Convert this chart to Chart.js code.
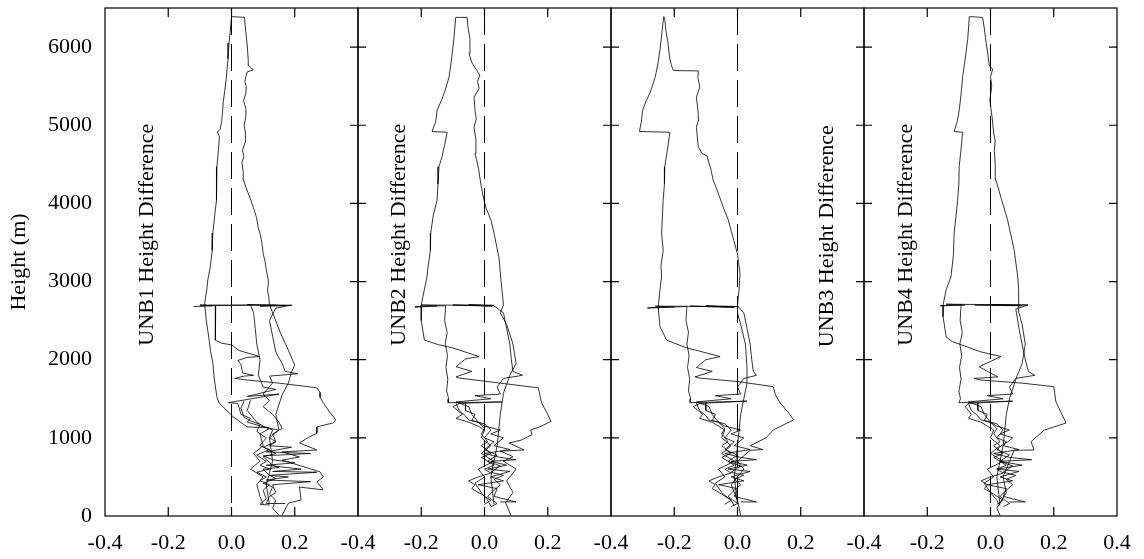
<!DOCTYPE html>
<html>
<head>
<meta charset="utf-8">
<script src="https://cdn.jsdelivr.net/npm/chart.js@4/dist/chart.umd.min.js"></script>
<style>
body { margin: 0; background: #fff; }
#wrap { position: relative; width: 1144px; height: 559px; }
#wrap canvas { position: absolute; left: 0; top: 0; }
</style>
</head>
<body>
<div id="wrap">
  <canvas id="c1" width="1144" height="559"></canvas>
  <canvas id="c2" width="1144" height="559"></canvas>
  <canvas id="c3" width="1144" height="559"></canvas>
  <canvas id="c4" width="1144" height="559"></canvas>
</div>
<script>
// tick labels
const xTicks = [-0.4, -0.2, 0.0, 0.2, 0.4];
const yTicks = [0, 1000, 2000, 3000, 4000, 5000, 6000];
const panelNames = ['UNB1', 'UNB2', 'UNB3', 'UNB4'];
const zeroLine = [[0, 6500], [0, 0]];

// UNB1 profiles: [height difference, height]
const p1Tall = [[0.12,150],[0.11,400],[0.13,700],[0.12,1000],[0.15,1100],[0.14,1300],[0.16,1550],[0.18,1700],[0.19,1850],[0.2,1930],[0.18,2120],[0.155,2340],[0.13,2600],[0.12,2700],[0.118,2800],[0.114,2890],[0.117,3000],[0.11,3150],[0.106,3260],[0.10,3360],[0.096,3500],[0.091,3600],[0.084,3700],[0.079,3820],[0.069,3950],[0.056,4100],[0.046,4200],[0.038,4300],[0.037,4400],[0.033,4520],[0.039,4600],[0.035,4680],[0.043,4780],[0.044,4900],[0.040,5000],[0.045,5100],[0.046,5200],[0.038,5320],[0.045,5400],[0.047,5490],[0.042,5560],[0.049,5680],[0.069,5710],[0.055,5760],[0.053,5830],[0.051,5950],[0.049,6050],[0.045,6200],[0.041,6380],[0.0,6390],[-0.004,6200],[-0.008,6050],[-0.011,5850],[-0.016,5620],[-0.021,5450],[-0.026,5300],[-0.028,5190],[-0.031,5050],[-0.036,4950],[-0.045,4910],[-0.038,4860],[-0.041,4700],[-0.046,4470],[-0.046,4250],[-0.049,4040],[-0.053,3850],[-0.059,3620],[-0.061,3400],[-0.067,3190],[-0.075,3020],[-0.078,2900],[-0.085,2720],[-0.08,2510],[-0.072,2290],[-0.066,2100],[-0.059,1960],[-0.054,1740],[-0.046,1520],[-0.04,1450],[0.005,1270],[0.049,1140],[0.11,1130],[0.15,1100]];
const p1Wave = [[-0.05,2690],[-0.05,2520],[-0.052,2250],[-0.03,2210],[0.0,2190],[0.02,2130],[0.03,2110],[0.09,2040],[0.05,2030],[0.02,1990],[0.03,1940],[0.035,1830],[0.07,1800],[0.04,1790],[0.01,1760],[0.05,1740],[0.15,1700],[0.27,1640],[0.28,1580],[0.28,1520],[0.29,1450],[0.31,1330],[0.33,1230],[0.32,1190],[0.27,1140],[0.27,1060],[0.245,1010],[0.215,935],[0.27,845],[0.16,820],[0.215,755],[0.16,715],[0.28,565],[0.29,500],[0.27,435],[0.29,335],[0.215,370],[0.22,205],[0.18,165],[0.16,10]];
const p1Mid = [[-0.10,2690],[0.0,2695],[0.06,2700],[0.07,2600],[0.075,2400],[0.08,2200],[0.09,2000],[0.085,1800],[0.1,1650],[0.14,1620],[0.05,1530],[0.15,1560],[-0.01,1450],[0.02,1440],[0.03,1300],[0.06,1250],[0.05,1200],[0.12,1120],[0.09,1050],[0.1,900],[0.07,800],[0.09,700],[0.06,600],[0.1,500],[0.08,400],[0.09,250],[0.1,150]];
const p1Right = [[0.19,2700],[0.14,2660],[0.12,2500],[0.13,2300],[0.14,2100],[0.16,1950],[0.17,1850],[0.21,1820],[0.12,1790],[0.13,1700],[0.1,1560],[0.12,1480],[0.1,1400],[0.13,1300],[0.15,1200],[0.16,1120],[0.13,1050],[0.14,950],[0.12,900],[0.19,880],[0.11,820],[0.25,800],[0.1,770],[0.13,720],[0.2,680],[0.11,650],[0.22,600],[0.13,570],[0.27,560],[0.12,520],[0.18,500],[0.11,460],[0.25,440],[0.13,400],[0.14,300],[0.12,250],[0.11,160],[0.17,160]];
const p1Spike = [[-0.12,2680],[-0.06,2690],[-0.1,2700],[0.19,2695],[0.05,2705],[0.17,2690],[0.09,2685],[0.14,2700]];
const p1Core = [[0.04,1470],[0.03,1380],[0.04,1260],[0.06,1220],[0.09,1170],[0.08,1080],[0.11,1000],[0.09,900],[0.12,850],[0.08,780],[0.11,700],[0.09,650],[0.12,600],[0.08,560],[0.11,500],[0.09,450],[0.12,400],[0.1,330],[0.11,220],[0.09,150],[0.12,140]];
const p1Core2 = [[0.06,1480],[0.05,1350],[0.08,1200],[0.1,1150],[0.13,1100],[0.12,1000],[0.14,950],[0.1,880],[0.14,800],[0.1,760],[0.13,650],[0.15,620],[0.1,600],[0.12,520],[0.14,480],[0.1,420],[0.13,370],[0.12,280],[0.14,200],[0.13,100],[0.15,10]];

// UNB2
const p2Tall = [[0.03,150],[0.02,500],[0.04,900],[0.05,1300],[0.06,1570],[0.08,1800],[0.1,1950],[0.09,2200],[0.07,2450],[0.05,2600],[0.06,2700],[0.055,2900],[0.051,3060],[0.046,3300],[0.03,3620],[0.021,3780],[0.004,3950],[-0.005,4100],[-0.012,4260],[-0.019,4450],[-0.03,4640],[-0.027,4800],[-0.033,4975],[-0.026,5080],[-0.03,5190],[-0.033,5360],[-0.017,5470],[-0.022,5560],[-0.015,5640],[-0.024,5700],[-0.04,5800],[-0.049,5920],[-0.046,6100],[-0.052,6250],[-0.055,6380],[-0.091,6380],[-0.097,6100],[-0.104,5850],[-0.112,5620],[-0.124,5450],[-0.136,5320],[-0.15,5190],[-0.154,5050],[-0.166,4920],[-0.118,4910],[-0.126,4750],[-0.134,4600],[-0.144,4470],[-0.147,4250],[-0.15,4040],[-0.162,3850],[-0.17,3620],[-0.171,3400],[-0.178,3200],[-0.182,3060],[-0.19,2900],[-0.2,2700],[-0.2,2500],[-0.19,2250],[-0.144,2190],[-0.1,2150],[-0.017,2040],[-0.06,2010],[-0.09,1910],[-0.04,1850],[-0.09,1780],[-0.08,1765],[0.05,1700],[0.17,1640],[0.175,1550],[0.18,1450],[0.2,1300],[0.21,1210],[0.18,1150],[0.146,1100],[0.15,1040],[0.115,970],[0.078,935],[0.125,845],[0.05,830],[0.09,760],[0.06,700],[0.1,600],[0.07,450],[0.09,300],[0.067,170],[0.083,10]];
const p2Mid = [[-0.22,2680],[-0.123,2690],[-0.126,2500],[-0.118,2350],[-0.124,2200],[-0.117,2050],[-0.122,1900],[-0.116,1750],[-0.12,1600],[-0.113,1500],[-0.115,1450],[0.055,1460],[-0.08,1440],[-0.1,1400],[-0.07,1300],[-0.09,1250],[-0.05,1200],[-0.02,1150],[0.0,1100],[-0.01,1000],[0.02,900],[-0.01,800],[0.03,700],[-0.02,600],[0.0,500],[-0.03,420],[-0.01,300],[0.01,200],[0.02,130]];
const p2Right = [[0.03,2690],[0.06,2600],[0.07,2400],[0.08,2200],[0.085,2000],[0.09,1850],[0.12,1800],[0.06,1760],[0.04,1650],[0.05,1560],[-0.03,1540],[0.02,1500],[-0.09,1460],[-0.05,1400],[-0.04,1300],[-0.02,1200],[0.0,1150],[0.05,1100],[0.02,1050],[0.06,1000],[0.03,900],[0.08,850],[0.0,800],[0.05,750],[0.1,720],[0.02,700],[0.07,650],[0.01,600],[0.08,570],[0.02,500],[0.06,450],[-0.02,400],[0.04,350],[0.03,250],[0.1,180],[0.05,180]];
const p2Spike = [[-0.22,2670],[-0.15,2690],[-0.2,2700],[0.03,2695],[-0.05,2705],[0.025,2685],[-0.1,2700],[0.01,2690]];
const p2Core = [[-0.09,1440],[-0.08,1350],[-0.06,1280],[-0.05,1230],[-0.02,1200],[0.0,1120],[-0.01,1050],[0.01,950],[-0.01,900],[0.02,800],[-0.01,750],[0.03,650],[0.0,600],[0.02,550],[-0.02,500],[-0.05,450],[-0.03,400],[-0.04,350],[-0.01,280],[0.02,200],[0.0,150]];
const p2Core2 = [[-0.06,1450],[-0.06,1350],[-0.03,1300],[-0.04,1220],[0.0,1180],[0.02,1100],[0.0,1000],[0.03,950],[0.0,850],[0.04,780],[0.01,700],[0.05,640],[0.02,560],[0.06,520],[0.03,470],[0.05,400],[0.03,330],[0.01,250],[0.04,160],[0.02,120]];

// UNB3
const p3Tall = [[0.0,150],[-0.01,500],[0.0,900],[0.01,1300],[0.02,1500],[0.03,1700],[0.03,1900],[0.025,2200],[0.01,2450],[0.0,2600],[0.0,2700],[0.005,2900],[0.008,3100],[0.0,3350],[-0.018,3620],[-0.03,3800],[-0.045,3950],[-0.06,4120],[-0.077,4300],[-0.085,4450],[-0.097,4610],[-0.113,4640],[-0.12,4700],[-0.124,4720],[-0.127,4850],[-0.13,4975],[-0.122,5080],[-0.124,5150],[-0.13,5360],[-0.119,5490],[-0.125,5600],[-0.124,5695],[-0.203,5700],[-0.21,5780],[-0.214,5850],[-0.217,5950],[-0.22,6060],[-0.226,6200],[-0.23,6360],[-0.233,6390],[-0.236,6300],[-0.244,6000],[-0.251,5800],[-0.26,5620],[-0.276,5420],[-0.29,5300],[-0.3,5190],[-0.304,5050],[-0.31,4920],[-0.214,4910],[-0.221,4700],[-0.23,4470],[-0.231,4250],[-0.235,4040],[-0.238,3800],[-0.24,3620],[-0.235,3400],[-0.242,3200],[-0.24,3060],[-0.245,2900],[-0.25,2700],[-0.25,2635],[-0.245,2420],[-0.224,2250],[-0.16,2150],[-0.13,2120],[-0.055,2040],[-0.1,2000],[-0.13,1900],[-0.08,1850],[-0.134,1780],[-0.12,1765],[0.0,1720],[0.113,1655],[0.12,1550],[0.135,1445],[0.16,1330],[0.177,1230],[0.113,1100],[0.09,1000],[0.04,900],[0.08,850],[0.04,840],[0.0,700],[0.02,600],[-0.02,400],[0.0,200],[0.01,10]];
const p3Mid = [[-0.285,2665],[-0.16,2680],[-0.163,2500],[-0.155,2350],[-0.16,2200],[-0.153,2050],[-0.158,1900],[-0.151,1750],[-0.155,1600],[-0.148,1500],[-0.15,1450],[0.03,1470],[-0.12,1440],[-0.14,1400],[-0.11,1300],[-0.12,1250],[-0.08,1200],[-0.06,1150],[-0.04,1100],[-0.05,1000],[-0.02,900],[-0.05,800],[-0.01,700],[-0.06,600],[-0.04,500],[-0.07,420],[-0.05,300],[-0.02,200],[-0.01,130]];
const p3Right = [[0.0,2690],[0.02,2600],[0.03,2400],[0.04,2200],[0.045,2000],[0.05,1850],[0.06,1800],[0.02,1760],[0.0,1650],[0.01,1560],[-0.07,1540],[-0.02,1500],[-0.13,1460],[-0.09,1400],[-0.08,1300],[-0.06,1200],[-0.04,1150],[0.01,1100],[-0.02,1050],[0.02,1000],[-0.01,900],[0.04,850],[-0.04,800],[0.01,750],[0.06,720],[-0.02,700],[0.03,650],[-0.03,600],[0.04,570],[-0.02,500],[0.02,450],[-0.06,400],[0.0,350],[-0.01,250],[0.06,180],[0.01,180]];
const p3Spike = [[-0.285,2660],[-0.2,2675],[-0.26,2685],[0.0,2680],[-0.1,2690],[-0.01,2670],[-0.15,2685],[-0.03,2675]];
const p3Core = [[-0.13,1440],[-0.12,1350],[-0.1,1280],[-0.09,1230],[-0.06,1200],[-0.04,1120],[-0.05,1050],[-0.03,950],[-0.05,900],[-0.02,800],[-0.05,750],[-0.01,650],[-0.04,600],[-0.02,550],[-0.06,500],[-0.09,450],[-0.07,400],[-0.08,350],[-0.05,280],[-0.02,200],[-0.04,150]];
const p3Core2 = [[-0.1,1450],[-0.1,1350],[-0.07,1300],[-0.08,1220],[-0.04,1180],[-0.02,1100],[-0.04,1000],[-0.01,950],[-0.04,850],[0.0,780],[-0.03,700],[0.01,640],[-0.02,560],[0.02,520],[-0.01,470],[0.01,400],[-0.01,330],[-0.03,250],[0.0,160],[-0.02,120]];

// UNB4
const p4Tall = [[0.03,150],[0.02,500],[0.04,900],[0.05,1300],[0.06,1500],[0.08,1750],[0.1,1950],[0.11,2200],[0.1,2450],[0.09,2600],[0.09,2700],[0.088,2900],[0.086,3060],[0.075,3400],[0.054,3790],[0.035,4050],[0.017,4300],[0.015,4500],[0.012,4680],[0.015,4800],[0.01,4900],[0.005,5100],[-0.002,5320],[0.004,5500],[0.0,5620],[0.007,5720],[-0.004,5760],[-0.008,5900],[-0.014,6060],[-0.02,6250],[-0.025,6380],[-0.067,6390],[-0.072,6100],[-0.08,5850],[-0.088,5620],[-0.093,5400],[-0.099,5190],[-0.105,5050],[-0.115,4920],[-0.088,4910],[-0.093,4700],[-0.099,4470],[-0.1,4250],[-0.104,4040],[-0.11,3800],[-0.115,3620],[-0.117,3350],[-0.125,3060],[-0.14,2900],[-0.15,2700],[-0.15,2550],[-0.14,2290],[-0.12,2230],[-0.03,2100],[0.033,2040],[-0.036,1910],[0.023,1780],[-0.052,1760],[-0.03,1740],[0.1,1700],[0.2,1655],[0.207,1460],[0.239,1190],[0.17,1100],[0.128,950],[0.138,845],[0.075,840],[0.06,700],[0.04,500],[0.05,300],[0.02,100],[0.03,10]];
const p4Mid = [[-0.159,2690],[-0.093,2700],[-0.096,2500],[-0.089,2350],[-0.097,2200],[-0.091,2050],[-0.098,1900],[-0.093,1750],[-0.1,1600],[-0.095,1500],[-0.1,1450],[0.07,1470],[-0.07,1440],[-0.08,1400],[-0.06,1300],[-0.07,1250],[-0.03,1200],[-0.01,1150],[0.01,1100],[0.0,1000],[0.03,900],[0.0,800],[0.04,700],[-0.01,600],[0.01,500],[-0.02,420],[0.0,300],[0.02,200],[0.03,130]];
const p4Right = [[0.118,2700],[0.08,2650],[0.09,2400],[0.1,2200],[0.11,2000],[0.12,1850],[0.14,1800],[0.08,1760],[0.06,1650],[0.07,1560],[-0.01,1540],[0.04,1500],[-0.07,1460],[-0.03,1400],[-0.02,1300],[0.0,1200],[0.02,1150],[0.06,1100],[0.03,1050],[0.07,1000],[0.04,900],[0.09,850],[0.01,800],[0.06,750],[0.13,720],[0.03,700],[0.1,650],[0.02,600],[0.09,570],[0.03,500],[0.07,450],[-0.01,400],[0.05,350],[0.04,250],[0.11,180],[0.06,180]];
const p4Spike = [[-0.159,2690],[-0.08,2700],[-0.14,2710],[0.118,2700],[0.0,2705],[0.1,2690],[-0.05,2700],[0.07,2695]];
const p4Core = [[-0.07,1440],[-0.06,1350],[-0.04,1280],[-0.03,1230],[0.0,1200],[0.02,1120],[0.01,1050],[0.03,950],[0.01,900],[0.04,800],[0.01,750],[0.05,650],[0.02,600],[0.04,550],[0.0,500],[-0.03,450],[-0.01,400],[-0.02,350],[0.01,280],[0.04,200],[0.02,150]];
const p4Core2 = [[-0.04,1450],[-0.04,1350],[-0.01,1300],[-0.02,1220],[0.02,1180],[0.04,1100],[0.02,1000],[0.05,950],[0.02,850],[0.06,780],[0.03,700],[0.07,640],[0.04,560],[0.08,520],[0.05,470],[0.07,400],[0.05,330],[0.03,250],[0.06,160],[0.04,120]];

const panels = [
  [p1Tall, p1Wave, p1Mid, p1Right, p1Spike, p1Core, p1Core2],
  [p2Tall, p2Mid, p2Right, p2Spike, p2Core, p2Core2],
  [p3Tall, p3Mid, p3Right, p3Spike, p3Core, p3Core2],
  [p4Tall, p4Mid, p4Right, p4Spike, p4Core, p4Core2]
];

// layout
const FONT = "'Liberation Serif', 'Times New Roman', serif";
const W = 1144, H = 559;
const plotLeft = 105, panelW = 253, plotTop = 8, plotBottom = 516;
const labelPos = [[-0.267, 3600], [-0.27, 3600], [0.283, 3580], [-0.267, 3600]];

const toPts = arr => arr.map(p => ({ x: p[0], y: p[1] }));

// box, inward ticks and the rotated panel label
const framePlugin = {
  id: 'frame',
  afterDatasetsDraw(chart, args, opts) {
    const { ctx, chartArea: a } = chart;
    const sx = chart.scales.x, sy = chart.scales.y;
    ctx.save();
    ctx.strokeStyle = '#000';
    ctx.lineWidth = 1.2;
    ctx.strokeRect(a.left, a.top, a.right - a.left, a.bottom - a.top);
    ctx.beginPath();
    xTicks.slice(1, -1).forEach(v => {
      const px = sx.getPixelForValue(v);
      ctx.moveTo(px, a.bottom); ctx.lineTo(px, a.bottom - 9);
      ctx.moveTo(px, a.top); ctx.lineTo(px, a.top + 9);
    });
    yTicks.slice(1).forEach(v => {
      const py = sy.getPixelForValue(v);
      ctx.moveTo(a.right, py); ctx.lineTo(a.right - 8, py);
      if (opts.leftTicks) { ctx.moveTo(a.left, py); ctx.lineTo(a.left + 8, py); }
    });
    ctx.stroke();
    ctx.translate(sx.getPixelForValue(opts.pos[0]), sy.getPixelForValue(opts.pos[1]));
    ctx.rotate(-Math.PI / 2);
    ctx.font = '22px ' + FONT;
    ctx.fillStyle = '#000';
    ctx.textAlign = 'center';
    ctx.textBaseline = 'middle';
    ctx.fillText(opts.text, 0, 0);
    ctx.restore();
  }
};

panels.forEach((series, k) => {
  const left = plotLeft + panelW * k;
  const right = left + panelW;
  const isFirst = k === 0, isLast = k === panels.length - 1;

  const datasets = series.map(s => ({
    data: toPts(s),
    showLine: true,
    borderColor: '#000',
    borderWidth: 0.8,
    pointRadius: 0,
    fill: false
  }));
  datasets.push({
    data: toPts(zeroLine),
    showLine: true,
    borderColor: '#000',
    borderWidth: 1,
    borderDash: [27, 9],
    pointRadius: 0,
    fill: false
  });

  new Chart(document.getElementById('c' + (k + 1)), {
    type: 'scatter',
    data: { datasets: datasets },
    plugins: [framePlugin],
    options: {
      responsive: false,
      animation: false,
      devicePixelRatio: 1,
      layout: { padding: { left: isFirst ? 0 : left, right: W - right, top: plotTop, bottom: 0 } },
      plugins: {
        legend: { display: false },
        tooltip: { enabled: false },
        frame: { leftTicks: !isFirst, pos: labelPos[k], text: panelNames[k] + ' Height Difference' }
      },
      scales: {
        x: {
          type: 'linear',
          min: -0.4, max: 0.4,
          afterBuildTicks: s => { s.ticks = xTicks.map(v => ({ value: v })); },
          afterFit: s => { s.height = H - plotBottom; s.paddingLeft = 0; s.paddingRight = 0; },
          grid: { display: false, drawTicks: false },
          border: { display: false },
          ticks: {
            autoSkip: false, maxRotation: 0, padding: 14,
            color: '#000', font: { family: FONT, size: 22 },
            callback: v => (v > 0.39 && !isLast) ? '' : (Math.abs(v) < 1e-9 ? '0.0' : v.toFixed(1))
          }
        },
        y: {
          type: 'linear',
          display: isFirst,
          min: 0, max: 6500,
          afterBuildTicks: s => { s.ticks = yTicks.map(v => ({ value: v })); },
          afterFit: s => { s.width = isFirst ? plotLeft : 0; s.paddingTop = 0; s.paddingBottom = 0; },
          grid: { display: false, drawTicks: false },
          border: { display: false },
          title: { display: true, text: 'Height (m)', color: '#000', font: { family: FONT, size: 22 }, padding: { top: 6, bottom: 0 } },
          ticks: { padding: 13, color: '#000', font: { family: FONT, size: 22 }, callback: v => String(v) }
        }
      }
    }
  });
});
</script>
</body>
</html>
